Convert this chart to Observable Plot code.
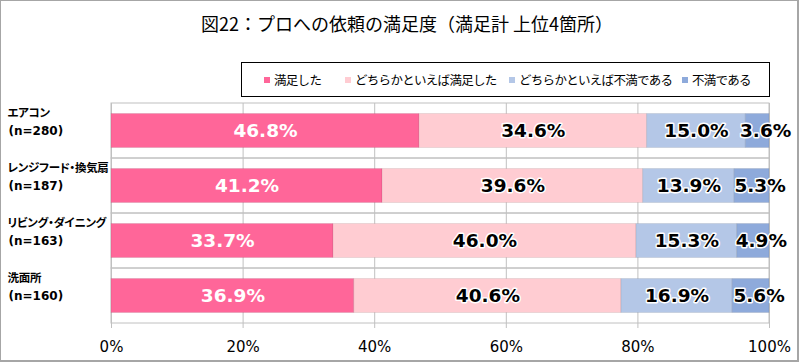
<!DOCTYPE html>
<html>
<head>
<meta charset="utf-8">
<script src="https://cdn.jsdelivr.net/npm/d3@7"></script>
<script src="https://cdn.jsdelivr.net/npm/@observablehq/plot@0.6"></script>
<style>
  html, body { margin: 0; padding: 0; background: #fff; }
  #wrap { position: relative; width: 800px; height: 363px; overflow: hidden; background: #fff; }
  #frame { position: absolute; left: 0; top: 0; width: 796px; height: 359px; border: 1px solid #a6a6a6; border-width: 1px 2px 2px 1px; pointer-events: none; z-index: 5; }
  #header { position: relative; height: 100px; }
  #title { position: absolute; left: 14px; right: 0; top: 12px; text-align: center; font-family: "Noto Sans CJK JP", sans-serif; font-size: 18px; line-height: 22px; color: #000; }
  #legend { position: absolute; left: 241px; top: 62px; width: 527px; height: 33px; border: 1px solid #000; font-family: "Noto Sans CJK JP", sans-serif; font-size: 12.5px; letter-spacing: -0.7px; color: #000; }
  .item { position: absolute; top: 0; height: 100%; display: flex; align-items: center; white-space: nowrap; }
  .sw { width: 6px; height: 6px; margin-right: 4px; }
  #chart svg { display: block; }
</style>
</head>
<body>
<div id="wrap">
  <div id="frame"></div>
  <div id="header">
    <div id="title"></div>
    <div id="legend"></div>
  </div>
  <div id="chart"></div>
</div>
<script>
const titleText = "図22：プロへの依頼の満足度（満足計 上位4箇所）";
const categories = ["エアコン", "レンジフード・換気扇", "リビング・ダイニング", "洗面所"];
const sampleSizes = [280, 187, 163, 160];
const series = ["満足した", "どちらかといえば満足した", "どちらかといえば不満である", "不満である"];
const satisfied = [46.8, 41.2, 33.7, 36.9];
const somewhatSatisfied = [34.6, 39.6, 46.0, 40.6];
const somewhatDissatisfied = [15.0, 13.9, 15.3, 16.9];
const dissatisfied = [3.6, 5.3, 4.9, 5.6];
const xTicks = [0, 0.2, 0.4, 0.6, 0.8, 1.0];
const colors = ["#ff6699", "#ffccd2", "#b4c7e7", "#8eaadb"];

const seriesValues = [satisfied, somewhatSatisfied, somewhatDissatisfied, dissatisfied];
const data = [];
series.forEach((s, si) => {
  categories.forEach((c, ci) => {
    data.push({s, c, v: seriesValues[si][ci]});
  });
});

document.getElementById("title").textContent = titleText;
const legendX = [264, 345, 509, 682];
const legend = document.getElementById("legend");
series.forEach((s, i) => {
  const it = document.createElement("div");
  it.className = "item";
  it.style.left = (legendX[i] - 242) + "px";
  const sw = document.createElement("span");
  sw.className = "sw";
  sw.style.background = colors[i];
  const t = document.createElement("span");
  t.textContent = s;
  it.appendChild(sw);
  it.appendChild(t);
  legend.appendChild(it);
});

const fmt = v => v.toFixed(1) + "%";
const stackOpts = {x: "v", y: "c", z: "s", offset: "normalize"};
const labelFont = "DejaVu Sans, Verdana, sans-serif";

const chart = Plot.plot({
  width: 800,
  height: 263,
  marginLeft: 111,
  marginRight: 31,
  marginTop: 3,
  marginBottom: 40,
  style: {background: "transparent", color: "#000"},
  x: {domain: [0, 1], axis: null},
  y: {domain: categories, padding: 0, round: false, axis: null},
  color: {domain: series, range: colors},
  marks: [
    Plot.ruleX(xTicks, {stroke: "#c0c0c0", strokeWidth: 1}),
    Plot.barX(categories, {x1: 0, x2: 1, y: d => d, fill: "none", stroke: "#c0c0c0", strokeWidth: 1}),
    Plot.axisX({
      ticks: xTicks,
      tickFormat: d3.format(".0%"),
      tickSize: 5,
      tickPadding: 13.3,
      stroke: "#c0c0c0",
      fill: "#000",
      fontSize: 15,
      fontFamily: labelFont,
      label: null
    }),
    Plot.barX(data, Plot.stackX({
      ...stackOpts,
      fill: "s",
      insetTop: 10.5,
      insetBottom: 10.5,
      stroke: "#000",
      strokeOpacity: 0.08,
      strokeWidth: 1
    })),
    Plot.text(categories, {
      y: d => d,
      frameAnchor: "left",
      dx: -104,
      dy: -18,
      textAnchor: "start",
      text: d => d,
      fontSize: 11.5,
      fontWeight: "bold",
      fontFamily: "Noto Sans CJK JP, sans-serif",
      fill: "#000"
    }),
    Plot.text(categories, {
      y: d => d,
      frameAnchor: "left",
      dx: -103,
      textAnchor: "start",
      text: (d, i) => "(n=" + sampleSizes[i] + ")",
      fontSize: 12,
      fontWeight: "bold",
      fontFamily: labelFont,
      fill: "#000"
    }),
    Plot.textX(data, Plot.stackX({
      ...stackOpts,
      text: d => d.s === series[0] ? fmt(d.v) : null,
      fill: "white",
      fontSize: 18.5,
      fontWeight: "bold",
      fontFamily: labelFont
    })),
    Plot.textX(data, Plot.stackX({
      ...stackOpts,
      text: d => (d.s === series[1] || d.s === series[2]) ? fmt(d.v) : null,
      fill: "black",
      stroke: "white",
      strokeWidth: 3,
      fontSize: 18.5,
      fontWeight: "bold",
      fontFamily: labelFont
    })),
    Plot.textX(data, Plot.stackX({
      ...stackOpts,
      text: d => d.s === series[3] ? fmt(d.v) : null,
      dx: 8,
      fill: "black",
      stroke: "white",
      strokeWidth: 3,
      fontSize: 18.5,
      fontWeight: "bold",
      fontFamily: labelFont
    }))
  ]
});
// proportional kana for the Japanese category names
d3.select(chart).selectAll("text")
  .filter(function() { return categories.includes(this.textContent); })
  .style("font-feature-settings", "\"palt\" 1")
  .style("letter-spacing", "-0.3px");
document.getElementById("chart").appendChild(chart);
</script>
</body>
</html>
